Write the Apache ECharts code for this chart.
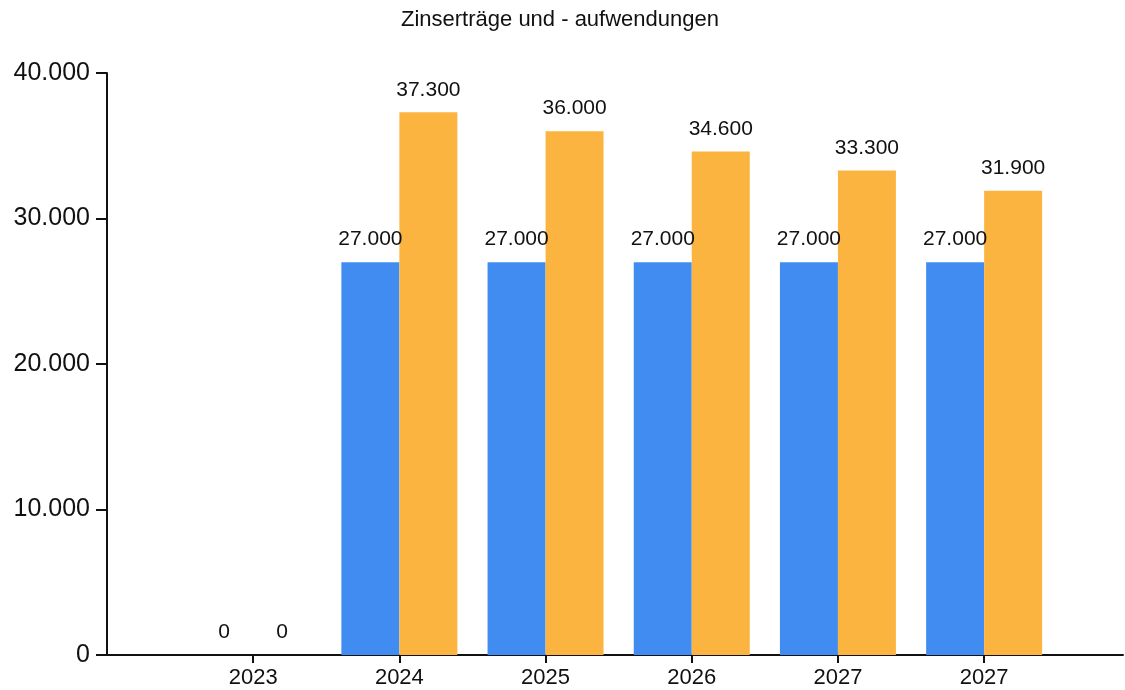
<!DOCTYPE html>
<html>
<head>
<meta charset="utf-8">
<script src="https://cdn.jsdelivr.net/npm/echarts@6/dist/echarts.min.js"></script>
<style>
html,body{margin:0;padding:0;background:#fff;}
#chart{width:1125px;height:690px;}
</style>
</head>
<body>
<div id="chart"></div>
<script>
const titleText = 'Zinserträge und - aufwendungen';
const categories = ['2023', '2024', '2025', '2026', '2027', '2027'];
const ertraege = [0, 27000, 27000, 27000, 27000, 27000];
const aufwendungen = [0, 37300, 36000, 34600, 33300, 31900];
const yTicks = [0, 10000, 20000, 30000, 40000];

function fmt(v) {
  return String(Math.round(v)).replace(/\B(?=(\d{3})+(?!\d))/g, '.');
}
const positions = categories.map((c, i) => i + 1);
const toPairs = arr => arr.map((v, i) => [positions[i], v]);

const chart = echarts.init(document.getElementById('chart'), null, {renderer: 'canvas'});
const font = '"Liberation Sans", Arial, sans-serif';
const labelCommon = {
  show: true, position: 'top', distance: 12,
  fontFamily: font, fontSize: 21, color: '#111',
  formatter: p => fmt(p.value[1])
};
chart.setOption({
  animation: false,
  backgroundColor: '#ffffff',
  title: {
    text: titleText, left: 396, top: 4,
    textStyle: {fontFamily: font, fontSize: 22, fontWeight: 'normal', color: '#111'}
  },
  grid: {left: 107, right: 2, top: 73, bottom: 35, containLabel: false},
  xAxis: {
    type: 'value', min: 0, max: 6.95, interval: 1,
    splitLine: {show: false},
    axisLine: {show: true, lineStyle: {color: '#111', width: 2}},
    axisTick: {show: true, length: 8, customValues: positions, lineStyle: {color: '#111', width: 2}},
    axisLabel: {
      customValues: positions, margin: 12,
      fontFamily: font, fontSize: 22, color: '#111',
      formatter: v => categories[Math.round(v) - 1] || ''
    }
  },
  yAxis: {
    type: 'value', min: yTicks[0], max: yTicks[yTicks.length - 1], interval: 10000,
    splitLine: {show: false},
    axisLine: {show: true, lineStyle: {color: '#111', width: 2}},
    axisTick: {show: true, length: 11, lineStyle: {color: '#111', width: 2}},
    axisLabel: {margin: 17, fontFamily: font, fontSize: 25, color: '#111', formatter: v => fmt(v)}
  },
  series: [
    {
      name: 'Zinserträge', type: 'bar', data: toPairs(ertraege),
      barWidth: 58, barGap: '0%',
      itemStyle: {color: '#418CF0'},
      label: labelCommon
    },
    {
      name: 'Zinsaufwendungen', type: 'bar', data: toPairs(aufwendungen),
      barWidth: 58, barGap: '0%',
      itemStyle: {color: '#FCB441'},
      label: labelCommon
    }
  ]
});
</script>
</body>
</html>
